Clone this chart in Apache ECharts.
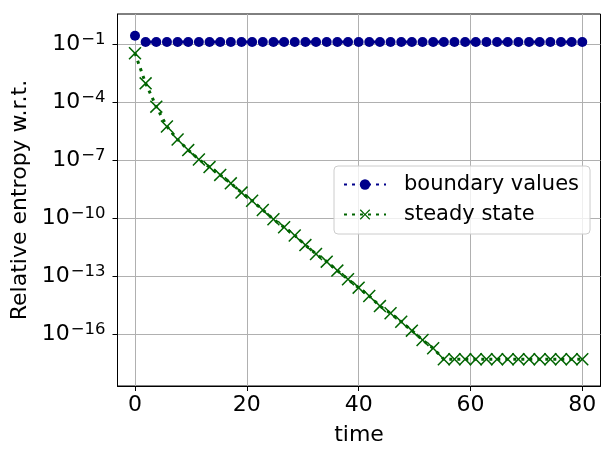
<!DOCTYPE html>
<html>
<head>
<meta charset="utf-8">
<script src="https://cdn.jsdelivr.net/npm/echarts@6/dist/echarts.min.js"></script>
<style>
  html, body { margin: 0; padding: 0; background: #fff; }
  #chart { width: 614px; height: 461px; }
</style>
</head>
<body>
<div id="chart"></div>
<script>
var times = [0, 1.9, 3.81, 5.71, 7.62, 9.52, 11.43, 13.33, 15.24, 17.14, 19.05, 20.95, 22.86, 24.76,
  26.67, 28.57, 30.48, 32.38, 34.29, 36.19, 38.1, 40, 41.9, 43.81, 45.71, 47.62, 49.52, 51.43,
  53.33, 55.24, 57.14, 59.05, 60.95, 62.86, 64.76, 66.67, 68.57, 70.48, 72.38, 74.29, 76.19, 78.1, 80]

var boundaryValues = [0.29, 0.138, 0.138, 0.138, 0.138, 0.138, 0.138, 0.138, 0.138, 0.138, 0.138,
  0.138, 0.138, 0.138, 0.138, 0.138, 0.138, 0.138, 0.138, 0.138, 0.138, 0.138, 0.138, 0.138,
  0.138, 0.138, 0.138, 0.138, 0.138, 0.138, 0.138, 0.138, 0.138, 0.138, 0.138, 0.138, 0.138,
  0.138, 0.138, 0.138, 0.138, 0.138, 0.138]

var steadyState = [3.6e-2, 1.0e-3, 6.2e-5, 5.8e-6, 1.23e-6, 3.5e-7, 1.13e-7, 4.6e-8, 1.8e-8, 6.6e-9,
  2.2e-9, 8.3e-10, 2.75e-10, 9.1e-11, 3.5e-11, 1.32e-11, 4.2e-12, 1.45e-12, 5.8e-13, 2.0e-13,
  7.1e-14, 2.6e-14, 9.7e-15, 2.9e-15, 1.23e-15, 4.5e-16, 1.55e-16, 5.1e-17, 1.9e-17,
  5.1e-18, 5.1e-18, 5.1e-18, 5.1e-18, 5.1e-18, 5.1e-18, 5.1e-18, 5.1e-18, 5.1e-18, 5.1e-18,
  5.1e-18, 5.1e-18, 5.1e-18, 5.1e-18]

var xTicks = [0, 20, 40, 60, 80]
var yTicks = [1e-1, 1e-4, 1e-7, 1e-10, 1e-13, 1e-16]

var font = 'DejaVu Sans'
var crossPath = 'path://M0,1L1,0L6,5L11,0L12,1L7,6L12,11L11,12L6,7L1,12L0,11L5,6Z'

function pairs(ys) {
  return times.map(function (t, i) { return [t, ys[i]] })
}

var chartDom = document.getElementById('chart')
var myChart = echarts.init(chartDom)
var option

option = {
  animation: false,
  textStyle: { fontFamily: font },
  grid: {
    left: 117.5,
    right: 13.5,
    top: 14,
    bottom: 75,
    show: true,
    borderColor: '#000',
    borderWidth: 1
  },
  legend: {
    orient: 'vertical',
    left: 334,
    top: 166,
    padding: [8, 11, 9, 9],
    itemGap: 9,
    itemWidth: 42,
    itemHeight: 13,
    backgroundColor: 'rgba(255,255,255,0.8)',
    borderColor: '#cccccc',
    borderWidth: 1,
    borderRadius: 4,
    textStyle: { fontFamily: font, fontSize: 21, color: '#000', padding: [0, 0, 0, 13] },
    data: ['boundary values', 'steady state']
  },
  xAxis: {
    type: 'value',
    min: -3.13,
    max: 83.26,
    name: 'time',
    nameLocation: 'middle',
    nameGap: 38,
    nameTextStyle: { fontFamily: font, fontSize: 22, color: '#000' },
    axisLine: { onZero: false, lineStyle: { color: '#000', width: 1 } },
    axisTick: { customValues: xTicks, length: 5, lineStyle: { color: '#000' } },
    axisLabel: { customValues: xTicks, fontFamily: font, fontSize: 22, color: '#000', margin: 8 },
    splitLine: { show: true, lineStyle: { color: '#b0b0b0', width: 1 } }
  },
  yAxis: {
    type: 'log',
    logBase: 10,
    min: 2.11e-19,
    max: 3.89,
    name: 'Relative entropy w.r.t.',
    nameLocation: 'middle',
    nameGap: 79,
    nameTextStyle: { fontFamily: font, fontSize: 22, color: '#000' },
    axisLine: { onZero: false, lineStyle: { color: '#000', width: 1 } },
    axisTick: { customValues: yTicks, length: 5, lineStyle: { color: '#000' } },
    axisLabel: {
      customValues: yTicks,
      margin: 12,
      formatter: function (v) {
        var e = Math.round(Math.log10(v))
        return '{b|10}{s|\u2212' + (-e) + '}'
      },
      rich: {
        b: { fontFamily: font, fontSize: 22, color: '#000' },
        s: { fontFamily: font, fontSize: 16.5, color: '#000', padding: [0, 0, 9, 1] }
      }
    },
    splitLine: { show: true, lineStyle: { color: '#b0b0b0', width: 1 } }
  },
  series: [
    {
      name: 'boundary values',
      type: 'line',
      data: pairs(boundaryValues),
      showAllSymbol: true,
      symbol: 'circle',
      symbolSize: 10,
      itemStyle: { color: '#00008b' },
      lineStyle: { color: '#00008b', width: 3, type: [3, 5] }
    },
    {
      name: 'steady state',
      type: 'line',
      data: pairs(steadyState),
      showAllSymbol: true,
      symbol: crossPath,
      symbolSize: 13,
      itemStyle: { color: '#006400' },
      lineStyle: { color: '#006400', width: 3, type: [3, 5] }
    }
  ]
}

option && myChart.setOption(option)
</script>
</body>
</html>
